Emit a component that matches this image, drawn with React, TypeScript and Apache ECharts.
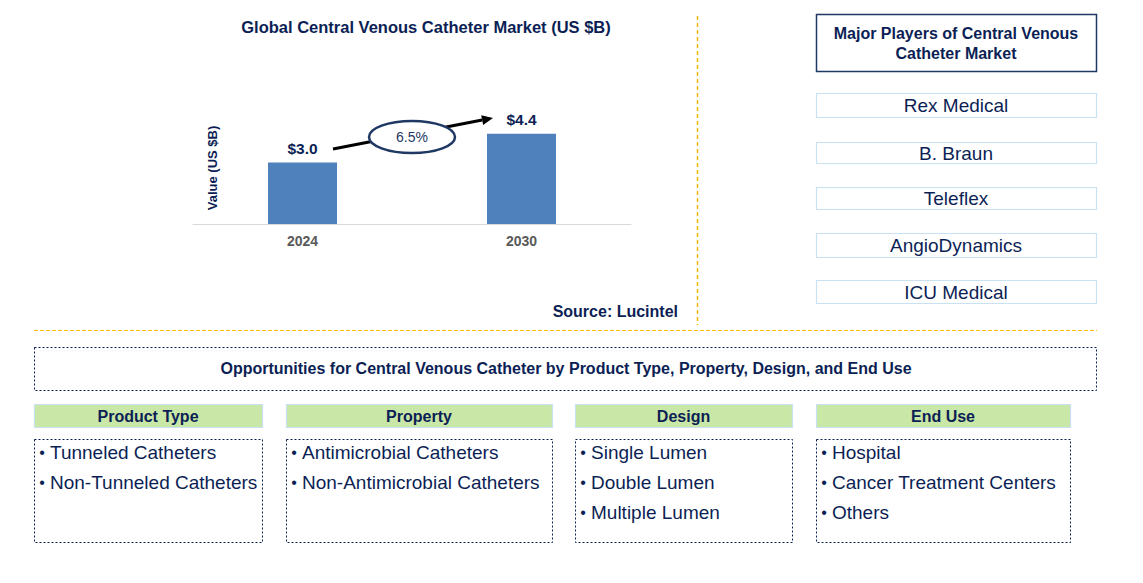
import React, { useEffect, useRef } from "react";
import * as echarts from "echarts";

const years = ["2024", "2030"];
const marketValues = [3.0, 4.4];
const cagrLabel = "6.5%";
const chartTitle = "Global Central Venous Catheter Market (US $B)";
const yAxisTitle = "Value (US $B)";
const sourceText = "Source: Lucintel";
const playersTitle = ["Major Players of Central Venous", "Catheter Market"];
const players = ["Rex Medical", "B. Braun", "Teleflex", "AngioDynamics", "ICU Medical"];
const opportunitiesTitle =
  "Opportunities for Central Venous Catheter by Product Type, Property, Design, and End Use";
const segmentNames = ["Product Type", "Property", "Design", "End Use"];
const segmentItems = [
  ["Tunneled Catheters", "Non-Tunneled Catheters"],
  ["Antimicrobial Catheters", "Non-Antimicrobial Catheters"],
  ["Single Lumen", "Double Lumen", "Multiple Lumen"],
  ["Hospital", "Cancer Treatment Centers", "Others"],
];

const NAVY = "#0C1F55";
const FONT = "'Liberation Sans', Arial, sans-serif";
const GOLD = "#FFC000";

export default function App() {
  const ref = useRef<HTMLDivElement>(null);
  useEffect(() => {
    if (!ref.current) return;
    const chart = echarts.init(ref.current, undefined, { renderer: "svg" });

    const graphics: any[] = [];
    graphics.push({
      type: "text",
      x: 426,
      y: 27,
      style: { text: chartTitle, fill: NAVY, font: `bold 16.5px ${FONT}`, align: "center", verticalAlign: "middle" },
    });
    graphics.push({
      type: "text",
      x: 212,
      y: 168,
      rotation: Math.PI / 2,
      style: { text: yAxisTitle, fill: NAVY, font: `bold 13px ${FONT}`, align: "center", verticalAlign: "middle" },
    });
    const sx = 333, sy = 149, tx = 493, ty = 118;
    const dx = tx - sx, dy = ty - sy;
    const len = Math.sqrt(dx * dx + dy * dy);
    const ux = dx / len, uy = dy / len;
    const hl = 11, hw = 5;
    const bx = tx - ux * hl, by = ty - uy * hl;
    graphics.push({
      type: "line",
      shape: { x1: sx, y1: sy, x2: bx, y2: by },
      style: { stroke: "#000", lineWidth: 3 },
    });
    graphics.push({
      type: "polygon",
      shape: {
        points: [
          [tx, ty],
          [bx - uy * hw, by + ux * hw],
          [bx + uy * hw, by - ux * hw],
        ],
      },
      style: { fill: "#000" },
    });
    graphics.push({
      type: "ellipse",
      shape: { cx: 412, cy: 137, rx: 43, ry: 16 },
      style: { fill: "#fff", stroke: "#1F3864", lineWidth: 2.5 },
    });
    graphics.push({
      type: "text",
      x: 412,
      y: 137,
      style: { text: cagrLabel, fill: "#1F3864", font: `14px ${FONT}`, align: "center", verticalAlign: "middle" },
    });
    graphics.push({
      type: "text",
      x: 678,
      y: 311,
      style: { text: sourceText, fill: NAVY, font: `bold 16px ${FONT}`, align: "right", verticalAlign: "middle" },
    });
    graphics.push({
      type: "line",
      shape: { x1: 697.5, y1: 16, x2: 697.5, y2: 325 },
      style: { stroke: "#F5B800", lineWidth: 1.5, lineDash: [4, 3] },
    });
    graphics.push({
      type: "line",
      shape: { x1: 34, y1: 330.5, x2: 1097, y2: 330.5 },
      style: { stroke: GOLD, lineWidth: 1, lineDash: [4, 2] },
    });
    graphics.push({
      type: "rect",
      shape: { x: 816.5, y: 14.5, width: 280, height: 57 },
      style: { fill: "#fff", stroke: "#1F3864", lineWidth: 1.5 },
    });
    graphics.push({
      type: "text",
      x: 956,
      y: 33,
      style: { text: playersTitle[0], fill: NAVY, font: `bold 16px ${FONT}`, align: "center", verticalAlign: "middle" },
    });
    graphics.push({
      type: "text",
      x: 956,
      y: 53,
      style: { text: playersTitle[1], fill: NAVY, font: `bold 16px ${FONT}`, align: "center", verticalAlign: "middle" },
    });
    const playerTops = [93, 142, 187, 233, 280];
    const playerH = [24, 21, 22, 24, 23];
    players.forEach((p, i) => {
      graphics.push({
        type: "rect",
        shape: { x: 816.5, y: playerTops[i] + 0.5, width: 280, height: playerH[i] },
        style: { fill: "#fff", stroke: "#C9E2F3", lineWidth: 1.2 },
      });
      graphics.push({
        type: "text",
        x: 956,
        y: playerTops[i] + playerH[i] / 2 + 0.5,
        style: { text: p, fill: NAVY, font: `19px ${FONT}`, align: "center", verticalAlign: "middle" },
      });
    });
    graphics.push({
      type: "rect",
      shape: { x: 34.5, y: 347.5, width: 1062, height: 43 },
      style: { fill: "none", stroke: NAVY, lineWidth: 1, lineDash: [2, 2] },
    });
    graphics.push({
      type: "text",
      x: 566,
      y: 368,
      style: { text: opportunitiesTitle, fill: NAVY, font: `bold 16px ${FONT}`, align: "center", verticalAlign: "middle" },
    });
    const segLeft = [34, 286, 575, 816];
    const segRight = [262, 552, 792, 1070];
    segmentNames.forEach((name, i) => {
      const x0 = segLeft[i], w = segRight[i] - segLeft[i];
      graphics.push({
        type: "rect",
        shape: { x: x0 + 0.5, y: 404.5, width: w, height: 23 },
        style: { fill: "#C9E7A6", stroke: "#C9E2F3", lineWidth: 1.2 },
      });
      graphics.push({
        type: "text",
        x: x0 + w / 2,
        y: 416,
        style: { text: name, fill: NAVY, font: `bold 16px ${FONT}`, align: "center", verticalAlign: "middle" },
      });
      graphics.push({
        type: "rect",
        shape: { x: x0 + 0.5, y: 439.5, width: w, height: 103 },
        style: { fill: "none", stroke: NAVY, lineWidth: 1, lineDash: [2, 2] },
      });
      segmentItems[i].forEach((item, j) => {
        const yy = 452 + j * 30;
        graphics.push({
          type: "text",
          x: x0 + 8,
          y: yy,
          style: { text: "•", fill: NAVY, font: `16px ${FONT}`, align: "center", verticalAlign: "middle" },
        });
        graphics.push({
          type: "text",
          x: x0 + 16,
          y: yy,
          style: { text: item, fill: NAVY, font: `19px ${FONT}`, align: "left", verticalAlign: "middle" },
        });
      });
    });

    chart.setOption({
      animation: false,
      backgroundColor: "#fff",
      grid: { left: 193, right: 1143 - 631, top: 101, bottom: 583 - 224 },
      xAxis: {
        type: "category",
        data: years,
        axisLine: { lineStyle: { color: "#D9D9D9", width: 1 } },
        axisTick: { show: false },
        axisLabel: { color: "#595959", fontWeight: "bold", fontSize: 14, fontFamily: FONT, margin: 10 },
      },
      yAxis: {
        type: "value",
        min: 0,
        max: 6,
        show: false,
      },
      series: [
        {
          type: "bar",
          data: marketValues,
          barWidth: 69,
          itemStyle: { color: "#4F81BD" },
          label: {
            show: true,
            position: "top",
            distance: 6,
            color: NAVY,
            fontWeight: "bold",
            fontSize: 15.5,
            fontFamily: FONT,
            formatter: (p: any) => "$" + Number(p.value).toFixed(1),
          },
        },
      ],
      graphic: graphics,
    });
    return () => chart.dispose();
  }, []);
  return <div ref={ref} style={{ position: "absolute", left: 0, top: 0, width: 1143, height: 583 }} />;
}
